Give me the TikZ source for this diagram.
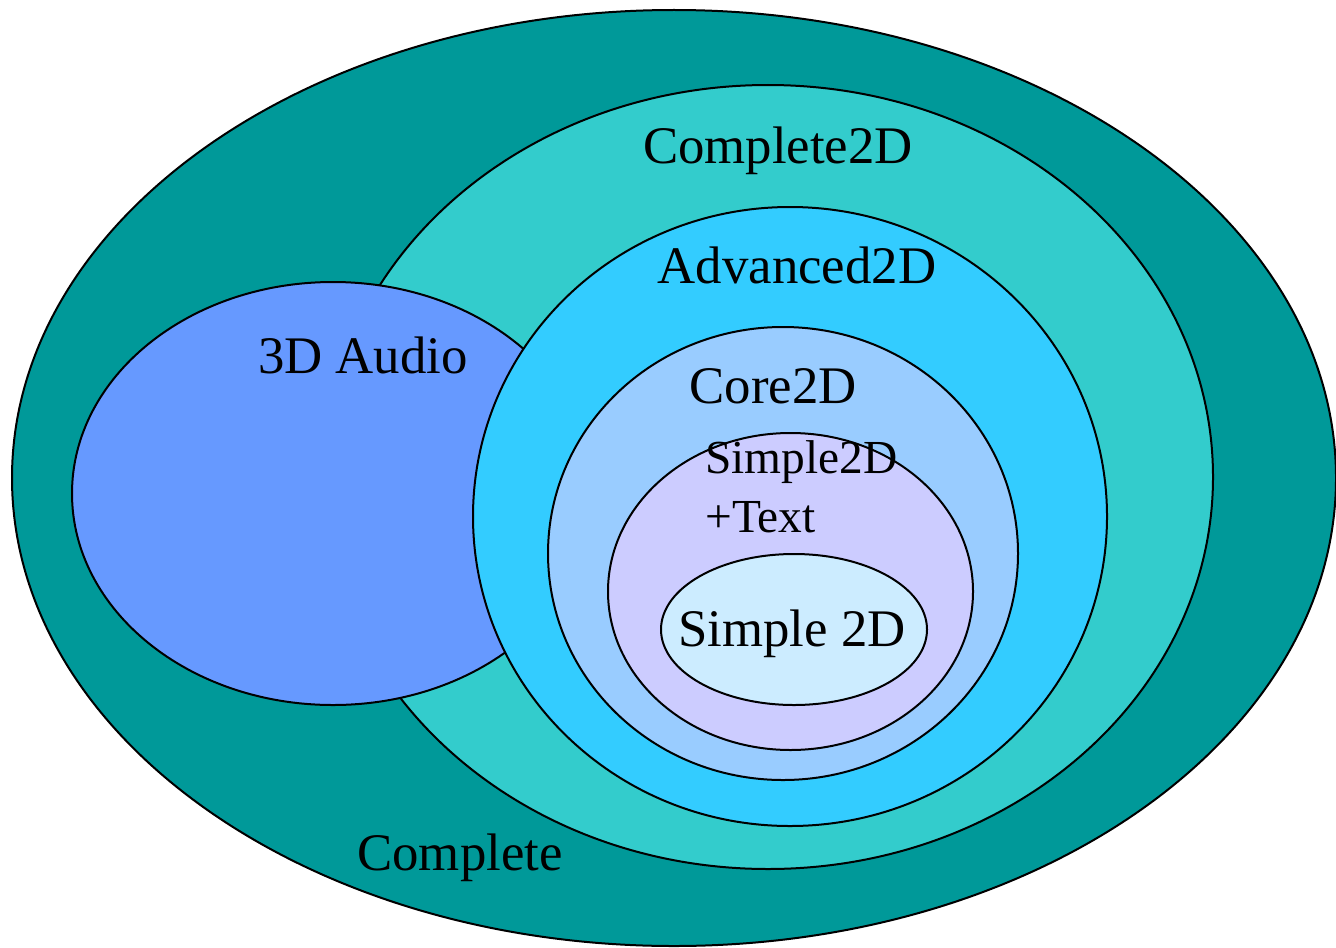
\documentclass[tikz,border=0pt]{standalone}
\usepackage{fontspec}
\setmainfont{Liberation Serif}
\definecolor{cComplete}{HTML}{009999}
\definecolor{cComplete2D}{HTML}{33CCCC}
\definecolor{cAudio}{HTML}{6699FF}
\definecolor{cAdvanced}{HTML}{33CCFF}
\definecolor{cCore}{HTML}{99CCFF}
\definecolor{cText}{HTML}{CCCCFF}
\definecolor{cSimple}{HTML}{CCECFF}
\tikzset{
  set/.style={draw=black, line width=1pt},
  lbl/.style={font=\fontsize{26.4}{29}\selectfont, inner sep=0pt, anchor=base},
  small lbl/.style={font=\fontsize{23.7}{26}\selectfont, inner sep=0pt, anchor=base west},
}
\begin{document}
\begin{tikzpicture}[x=0.5pt, y=-0.5pt]
  \useasboundingbox (0,0) rectangle (1336,947);
  % profile sets, drawn from outermost to innermost
  \filldraw[set, fill=cComplete]   (674,478)   ellipse [x radius=331pt,  y radius=234pt];
  \filldraw[set, fill=cComplete2D] (768,477)   ellipse [x radius=222.5pt,y radius=196pt];
  \filldraw[set, fill=cAudio]      (333,493.5) ellipse [x radius=130.5pt,y radius=105.75pt];
  \filldraw[set, fill=cAdvanced]   (790,516.5) ellipse [x radius=158.5pt,y radius=154.75pt];
  \filldraw[set, fill=cCore]       (783,553.5) ellipse [x radius=117.5pt,y radius=113.25pt];
  \filldraw[set, fill=cText]       (790.5,591.5) ellipse [x radius=91.25pt,y radius=79.25pt];
  \filldraw[set, fill=cSimple]     (794,629.5) ellipse [x radius=66.5pt, y radius=37.75pt];
  % labels
  \node[lbl] (complete2d) at (778,163) {Complete2D};
  \node[lbl] (advanced)   at (797,283) {Advanced2D};
  \node[lbl] (audio)      at (363,373) {3D Audio};
  \node[lbl] (core)       at (773,403) {Core2D};
  \node[small lbl] (s2dtext)  at (705,473) {Simple2D};
  \node[small lbl] (plustext) at (705,532) {+Text};
  \node[lbl] (simple)     at (792,646) {Simple 2D};
  \node[lbl] (complete)   at (460,870) {Complete};
\end{tikzpicture}
\end{document}
